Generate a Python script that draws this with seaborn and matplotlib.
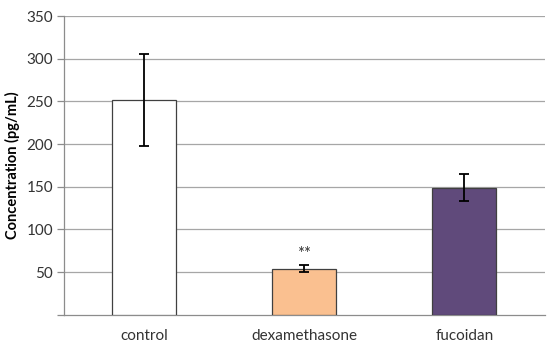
import numpy as np
import pandas as pd
import matplotlib
matplotlib.use("Agg")
import matplotlib.pyplot as plt
import seaborn as sns

groups = ["control", "dexamethasone", "fucoidan"]
means = [252, 54, 149]
errors = [54, 4.5, 16]
bar_colors = ["#FFFFFF", "#FAC090", "#604A7B"]

sns.set_theme(style="white")
plt.rcParams["font.family"] = ["Lato", "DejaVu Sans"]

df = pd.DataFrame({"group": groups, "conc": means})

fig = plt.figure(figsize=(5.5, 3.5), dpi=100)
ax = fig.add_axes([0.117, 0.101, 0.873, 0.853])

sns.barplot(data=df, x="group", y="conc", hue="group", palette=bar_colors,
            saturation=1, width=0.4, edgecolor="#404040", linewidth=0.9,
            legend=False, errorbar=None, ax=ax, zorder=3)
pos = np.arange(len(groups))
ax.errorbar(pos, means, yerr=errors, fmt="none", ecolor="black",
            elinewidth=1.3, capsize=3.5, capthick=1.3, zorder=4)
# significance mark above dexamethasone
ax.text(pos[1], means[1] + errors[1] + 13, "**", ha="center", va="center",
        fontsize=12, color="#333333")

ax.set_ylim(0, 350)
ax.set_xlim(-0.5, 2.5)
ax.set_yticks(np.arange(50, 351, 50))
ax.yaxis.grid(True, color="#A6A6A6", linewidth=0.9, zorder=0)
ax.set_axisbelow(True)
ax.set_xlabel("")
ax.set_ylabel("Concentration (pg/mL)", fontsize=10.5, fontweight="bold",
              color="black", labelpad=5)

for s in ["top", "right"]:
    ax.spines[s].set_visible(False)
for s in ["left", "bottom"]:
    ax.spines[s].set_color("#8C8C8C")
    ax.spines[s].set_linewidth(0.9)

ax.set_xticks(pos)
ax.set_xticks(np.arange(-0.5, 2.6, 1.0), minor=True)
ax.tick_params(axis="x", which="major", length=0, labelsize=11,
               colors="#333333", pad=10)
ax.tick_params(axis="x", which="minor", length=5, color="#8C8C8C", width=0.9)
ax.tick_params(axis="y", which="major", left=True, length=5, color="#8C8C8C",
               width=0.9, labelsize=11, labelcolor="#333333", pad=3)
# tick mark at zero without a label
ax.set_yticks([0], minor=True)
ax.tick_params(axis="y", which="minor", left=True, length=5, color="#8C8C8C",
               width=0.9)

fig.savefig("out.png", dpi=100)
